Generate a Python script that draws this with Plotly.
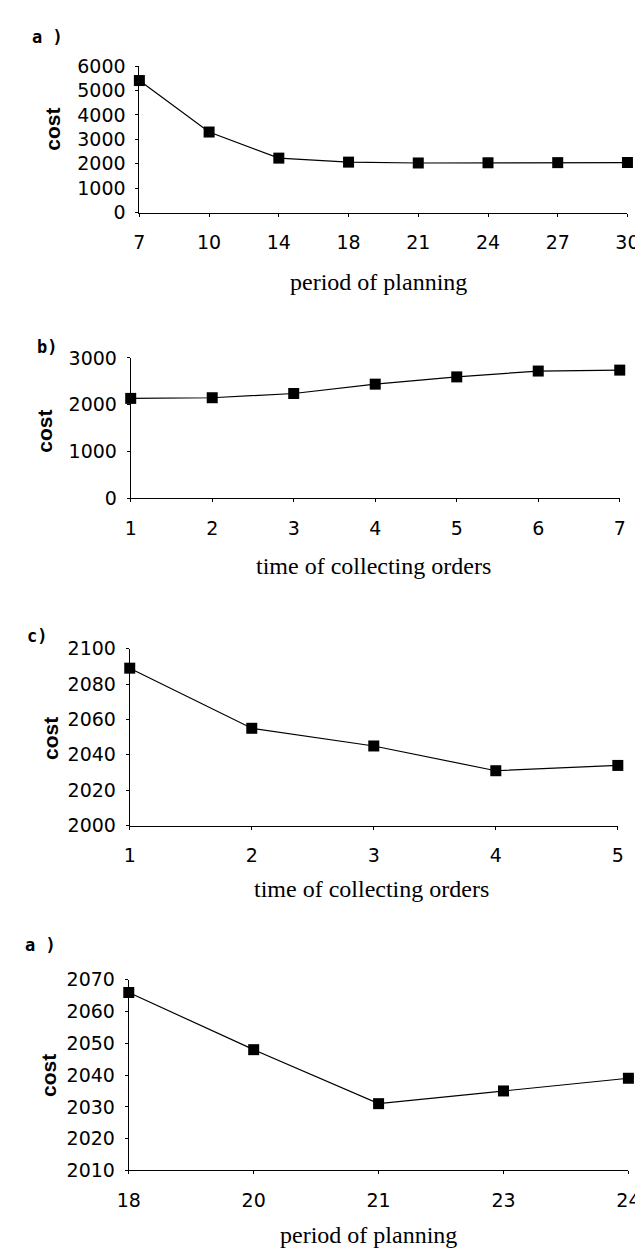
import plotly.graph_objects as go

# ---- data ----
a_period = ["7", "10", "14", "18", "21", "24", "27", "30"]
a_cost = [5410, 3300, 2230, 2066, 2031, 2039, 2045, 2050]

b_time = ["1", "2", "3", "4", "5", "6", "7"]
b_cost = [2136, 2150, 2240, 2440, 2595, 2720, 2740]

c_time = ["1", "2", "3", "4", "5"]
c_cost = [2089, 2055, 2045, 2031, 2034]

d_period = ["18", "20", "21", "23", "24"]
d_cost = [2066, 2048, 2031, 2035, 2039]

W, H = 643, 1250

panels = [
    dict(x=a_period, y=a_cost, xpx=(124, 631), ypx=(48, 197), yr=(0, 6000), dt=1000,
         tag="a )", tagpos=(29, 18), xt="period of planning", xtpos=(372, 268), cpos=(33, 112)),
    dict(x=b_time, y=b_cost, xpx=(115, 623), ypx=(345, 488), yr=(0, 3000), dt=1000,
         tag="b)", tagpos=(28, 334), xt="time of collecting orders", xtpos=(367, 557), cpos=(26, 420)),
    dict(x=c_time, y=c_cost, xpx=(114, 621), ypx=(641, 821), yr=(2000, 2100), dt=20,
         tag="c)", tagpos=(18, 628), xt="time of collecting orders", xtpos=(365, 886), cpos=(31, 732)),
    dict(x=d_period, y=d_cost, xpx=(113, 632), ypx=(978, 1172), yr=(2010, 2070), dt=10,
         tag="a )", tagpos=(21, 943), xt="period of planning", xtpos=(362, 1238), cpos=(29, 1075)),
]

fig = go.Figure()
annotations = []
tickfont = dict(family="DejaVu Sans", size=19, color="black")

for i, p in enumerate(panels, start=1):
    sx = "" if i == 1 else str(i)
    fig.add_trace(go.Scatter(
        x=p["x"], y=p["y"], xaxis="x" + sx, yaxis="y" + sx,
        mode="lines+markers", cliponaxis=False,
        line=dict(color="black", width=1.2),
        marker=dict(symbol="square", size=11, color="black"),
        showlegend=False,
    ))
    xdom = [p["xpx"][0] / W, p["xpx"][1] / W]
    ydom = [1 - p["ypx"][1] / H, 1 - p["ypx"][0] / H]
    fig.layout["xaxis" + sx] = dict(
        domain=xdom, anchor="y" + sx, type="category",
        range=[0, len(p["x"]) - 1], autorange=False,
        showline=True, linecolor="black", linewidth=1,
        ticks="outside", ticklen=3, tickcolor="black",
        showgrid=False, zeroline=False, tickfont=tickfont,
        ticklabelstandoff=10,
    )
    fig.layout["yaxis" + sx] = dict(
        domain=ydom, anchor="x" + sx,
        range=list(p["yr"]), autorange=False, dtick=p["dt"], tick0=p["yr"][0],
        showline=True, linecolor="black", linewidth=1,
        ticks="outside", ticklen=3, tickcolor="black",
        showgrid=False, zeroline=False, tickfont=tickfont,
        ticklabelstandoff=6,
    )
    annotations.append(dict(
        text="<b>" + p["tag"] + "</b>", x=p["tagpos"][0] / W, y=1 - p["tagpos"][1] / H,
        xref="paper", yref="paper", showarrow=False, xanchor="center", yanchor="middle",
        font=dict(family="DejaVu Sans Mono", size=17, color="black"),
    ))
    annotations.append(dict(
        text=p["xt"], x=p["xtpos"][0] / W, y=1 - p["xtpos"][1] / H,
        xref="paper", yref="paper", showarrow=False, xanchor="center", yanchor="middle",
        font=dict(family="Liberation Serif", size=24, color="black"),
    ))
    annotations.append(dict(
        text="<b>cost</b>", x=p["cpos"][0] / W, y=1 - p["cpos"][1] / H, textangle=-90,
        xref="paper", yref="paper", showarrow=False, xanchor="center", yanchor="middle",
        font=dict(family="Liberation Sans", size=21, color="black"),
    ))

fig.update_layout(
    width=W, height=H, margin=dict(l=0, r=0, t=0, b=0),
    paper_bgcolor="white", plot_bgcolor="white",
    annotations=annotations,
)

fig.write_html("out.html")
